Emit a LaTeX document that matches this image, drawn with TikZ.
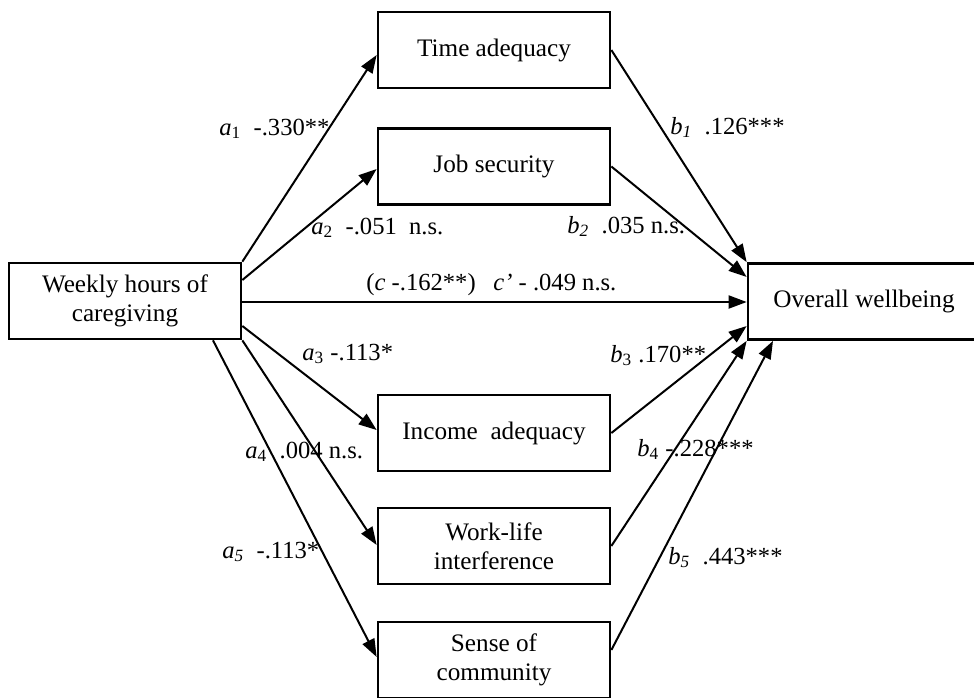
\documentclass[tikz,border=0pt]{standalone}
\usepackage{fontspec}
\setmainfont{Liberation Serif}
\usetikzlibrary{arrows.meta}
\tikzset{
  boxnode/.style={draw, line width=1.35pt, inner sep=0pt, align=center,
    minimum width=116pt, minimum height=38pt,
    font=\fontsize{12.6}{14.5}\selectfont},
  conn/.style={line width=1pt, -{Triangle[length=9pt,width=6.5pt]}},
  lbl/.style={anchor=west, inner sep=0pt, text height=0.7em, text depth=0.2em,
    font=\fontsize{12.3}{14}\selectfont}
}
\begin{document}
\begin{tikzpicture}[x=0.5pt,y=-0.5pt]
\useasboundingbox (0,0) rectangle (974,697);
% boxes
\node[boxnode] (w)  at (125,301)  {Weekly hours of\\caregiving};
\node[boxnode] (ta) at (494,50)   {Time adequacy};
\node[boxnode] (js) at (494,166.5){Job security};
\node[boxnode] (ia) at (494,433)  {Income\ \ adequacy};
\node[boxnode] (wl) at (494,546)  {Work-life\\interference};
\node[boxnode] (sc) at (494,660)  {Sense of\\community};
\node[boxnode] (ow) at (864,301.5){Overall wellbeing};
% a paths
\draw[conn] (w.north east) -- (ta.west |- 0,55);
\draw[conn] (w.east |- 0,280) -- (js.west |- 0,169);
\draw[conn] (w.east |- 0,302) -- (ow.west |- 0,302);
\draw[conn] (w.east |- 0,326) -- (ia.west |- 0,430);
\draw[conn] (w.south east) -- (wl.west |- 0,545);
\draw[conn] (w.south -| 213,0) -- (sc.west |- 0,657);
% b paths
\draw[conn] (ta.east) -- (ow.north west);
\draw[conn] (js.east) -- (ow.west |- 0,277);
\draw[conn] (ia.east) -- (ow.west |- 0,326);
\draw[conn] (wl.east) -- (ow.south west);
\draw[conn] (sc.east |- 0,650) -- (ow.south -| 773,0);
% labels
\node[lbl] (la1) at (219,130) {\textit{a}\textsubscript{1}\ \ -.330**};
\node[lbl] (la2) at (311,229) {\textit{a}\textsubscript{2}\ \ -.051\ \ n.s.};
\node[lbl] (lc)  at (366,285) {(\textit{c} -.162**)};
\node[lbl] (lcp) at (493,285) {\textit{c’} - .049 n.s.};
\node[lbl] (la3) at (302,355) {\textit{a}\textsubscript{3} -.113*};
\node[lbl] (la4) at (245,453) {\textit{a}\textsubscript{4}\ \ .004 n.s.};
\node[lbl] (la5) at (222,553) {\textit{a\textsubscript{5}}\ \ -.113*};
\node[lbl] (lb1) at (670,129) {\textit{b\textsubscript{1}}\ \ .126***};
\node[lbl] (lb2) at (567,228) {\textit{b\textsubscript{2}}\ \ .035 n.s.};
\node[lbl] (lb3) at (610,357) {\textit{b}\textsubscript{3}\ .170**};
\node[lbl] (lb4) at (637,451) {\textit{b}\textsubscript{4} -.228***};
\node[lbl] (lb5) at (668,559) {\textit{b\textsubscript{5}}\ \ .443***};
\end{tikzpicture}
\end{document}
